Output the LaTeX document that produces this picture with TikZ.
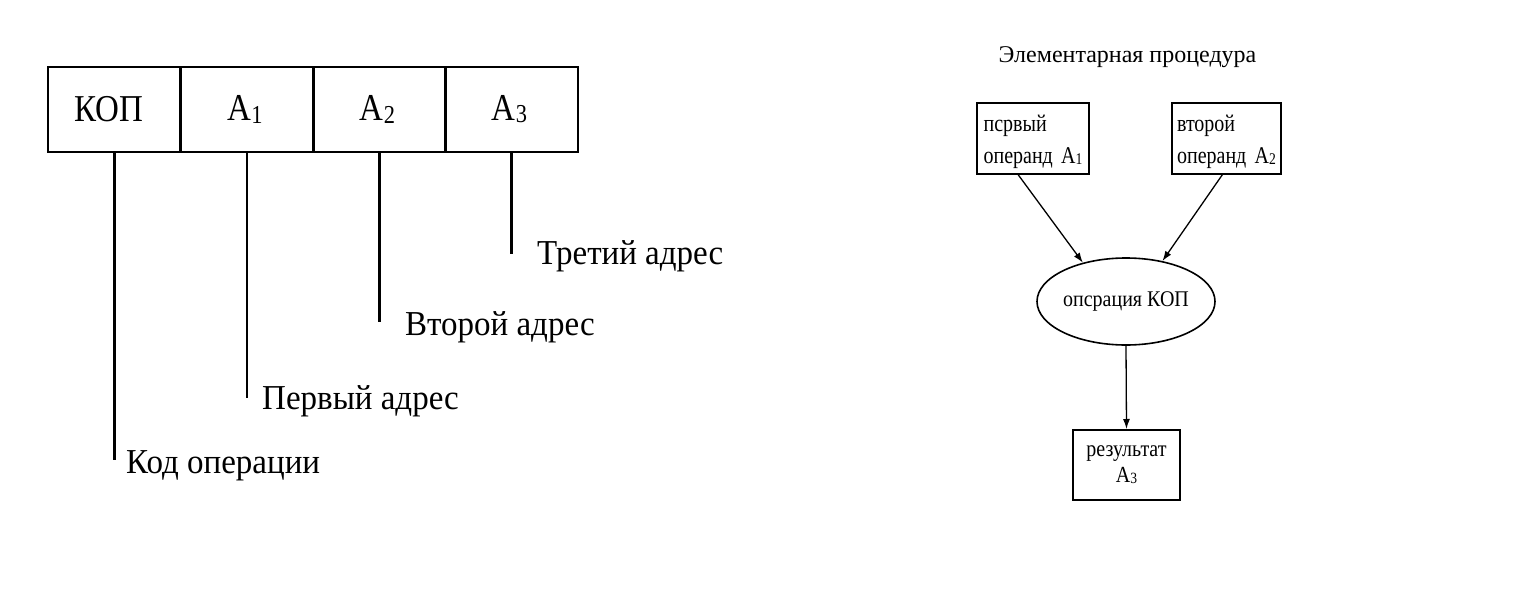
\documentclass[tikz,border=0pt]{standalone}
\usepackage{fontspec}
\setmainfont{Liberation Serif}
\usetikzlibrary{arrows.meta,shapes.geometric,calc}
\newcommand\subdig[1]{\raisebox{-0.12ex}{\scalebox{0.68}{#1}}}
\newcommand\vs[2][1.15]{\scalebox{1}[#1]{#2}}
\tikzset{
  cell/.style={draw,line width=2.4pt,minimum width=133pt,minimum height=85pt,inner sep=0pt,font=\fontsize{33}{36}\selectfont},
  tick/.style={line width=2.4pt},
  lbl/.style={anchor=west,inner sep=0pt,font=\fontsize{33}{38}\selectfont},
  box/.style={draw,line width=2pt,inner sep=0pt,font=\fontsize{20}{32}\selectfont},
  arr/.style={line width=1.3pt,-{Latex[length=10pt,width=7pt]}}
}
\begin{document}
\begin{tikzpicture}[x=1pt,y=-1pt]
\useasboundingbox[fill=white] (0,0) rectangle (1531,594);
% register
\node[cell] (c1) at (114.5,109.5) {\vs{КОП}\hspace*{12pt}};
\node[cell] (c2) at (247,109.5) {\vs{A\subdig{1}}\hspace*{4pt}};
\node[cell] (c3) at (379.5,109.5) {\vs{A\subdig{2}}\hspace*{4pt}};
\node[cell] (c4) at (511.5,109.5) {\vs{A\subdig{3}}\hspace*{4pt}};
\coordinate (e1) at (113.5,460);
\coordinate (e2) at (246,398);
\coordinate (e3) at (379,322);
\coordinate (e4) at (512,254);
\draw[tick] (c1.south) -- (c1.south |- e1);
\draw[tick] (c2.south) -- (c2.south |- e2);
\draw[tick] (c3.south) -- (c3.south |- e3);
\draw[tick] (c4.south) -- (c4.south |- e4);
\node[lbl] (l1) at (126,466) {\vs[1.06]{Код операции}};
\node[lbl] (l2) at (262,401) {\vs[1.06]{Первый адрес}};
\node[lbl] (l3) at (405,327) {\vs[1.06]{Второй адрес}};
\node[lbl] (l4) at (537,256) {\vs[1.06]{Третий адрес}};
% elementary procedure
\node[font=\fontsize{24}{28}\selectfont] (t) at (1127.5,57) {Элементарная процедура};
\node[box,minimum width=112pt,minimum height=71pt,align=left] (b1) at (1033,138) {\rule{0pt}{24pt}\vs[1.2]{псрвый}\\\vs[1.2]{операнд\, A\subdig{1}}};
\node[box,minimum width=109pt,minimum height=71pt,align=left] (b2) at (1226.5,138) {\rule{0pt}{24pt}\vs[1.2]{второй}\\\vs[1.2]{операнд\, A\subdig{2}}};
\node[draw,ellipse,line width=1.6pt,minimum width=178pt,minimum height=87pt,inner sep=0pt,font=\fontsize{20}{24}\selectfont] (op) at (1126,301.5) {\vs[1.12]{опсрация КОП}};
\node[box,minimum width=107pt,minimum height=70pt,align=center,font=\fontsize{20}{26}\selectfont] (b3) at (1126.5,465) {\vs[1.15]{результат}\\\vs[1.15]{A\subdig{3}}};
\draw[arr] ($(b1.south)+(-15,0)$) -- (op.138);
\draw[arr] ($(b2.south)+(-4,0)$) -- (op.48);
\draw[arr] (op.south) -- (b3.north);
\end{tikzpicture}
\end{document}
